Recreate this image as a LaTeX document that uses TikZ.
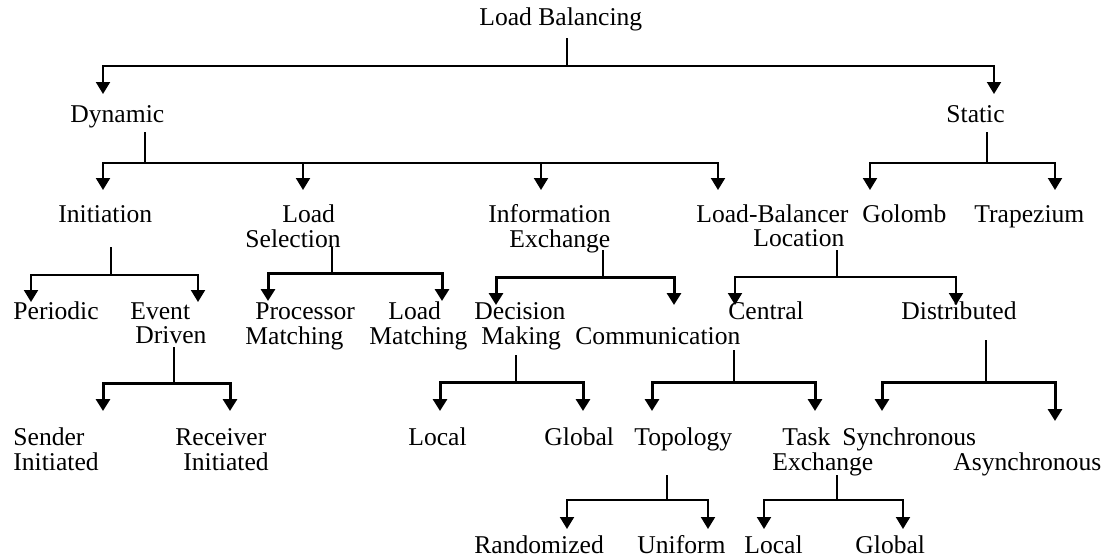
\documentclass[tikz,border=0pt]{standalone}
\usepackage{fontspec}
\setmainfont{Liberation Serif}
\usetikzlibrary{arrows.meta}
\newcommand\twoln[2]{\begin{tabular}[t]{@{}l@{}}#1\\#2\end{tabular}}
\begin{document}
\begin{tikzpicture}[x=0.5pt,y=-0.5pt,
  lbl/.style={anchor=base west, inner sep=0pt, font=\fontsize{12.8}{12.4}\selectfont},
  ln/.style={line width=1pt},
  lnk/.style={line width=1.5pt},
  tip/.style={-{Triangle[width=7pt,length=6pt]}}]
\useasboundingbox (0,0) rectangle (1103,558);

% ---------- labels ----------
\node[lbl] (lb)  at (479,25)  {Load Balancing};
\node[lbl] (dyn) at (70,122)  {Dynamic};
\node[lbl] (sta) at (946,122) {Static};

\node[lbl] (ini) at (58,222)  {Initiation};
\node[lbl] (lsel) at (245,222) {\twoln{\hspace*{18.5pt}Load}{Selection}};
\node[lbl] (iex) at (488,222) {\twoln{Information}{\hspace*{10.5pt}Exchange}};
\node[lbl] (lbl) at (696,222) {\twoln{Load-Balancer}{\hspace*{28.5pt}Location}};
\node[lbl] (gol) at (862,222) {Golomb};
\node[lbl] (tra) at (974,222) {Trapezium};

\node[lbl] (per) at (13,319)  {Periodic};
\node[lbl] (evd) at (130,319) {\twoln{Event}{\hspace*{2.5pt}Driven}};
\node[lbl] (pm)  at (245,319) {\twoln{\hspace*{5pt}Processor}{Matching}};
\node[lbl] (lm)  at (369,319) {\twoln{\hspace*{9.5pt}Load}{Matching}};
\node[lbl] (dm)  at (474,319) {\twoln{Decision}{\hspace*{3.5pt}Making}};
\node[lbl] (com) at (575,344) {Communication};
\node[lbl] (cen) at (728,319) {Central};
\node[lbl] (dis) at (901,319) {Distributed};

\node[lbl] (sen) at (13,445)  {\twoln{Sender}{Initiated}};
\node[lbl] (rec) at (175,445) {\twoln{Receiver}{\hspace*{4pt}Initiated}};
\node[lbl] (loc1) at (408,445) {Local};
\node[lbl] (glo1) at (544,445) {Global};
\node[lbl] (top) at (634,445) {Topology};
\node[lbl] (tex) at (772,445) {\twoln{\hspace*{5pt}Task}{Exchange}};
\node[lbl] (syn) at (842,445) {Synchronous};
\node[lbl] (asy) at (953,470) {Asynchronous};

\node[lbl] (ran) at (474,553) {Randomized};
\node[lbl] (uni) at (637,553) {Uniform};
\node[lbl] (loc2) at (744,553) {Local};
\node[lbl] (glo2) at (855,553) {Global};

% ---------- junction / tip coordinates ----------
\coordinate (s0) at (567,38);   \coordinate (j0) at (567,66);
\coordinate (t-dyn) at (103,94); \coordinate (t-sta) at (994,94);

\coordinate (s1) at (145,132);  \coordinate (j1) at (145,163);
\coordinate (t-ini) at (103,190); \coordinate (t-lsel) at (303,190);
\coordinate (t-iex) at (541,190); \coordinate (t-lbl) at (718,190);

\coordinate (s2) at (987,132);  \coordinate (j2) at (987,163);
\coordinate (t-gol) at (870,190); \coordinate (t-tra) at (1055,190);

\coordinate (s3) at (111,247);  \coordinate (j3) at (111,275);
\coordinate (t-per) at (31,302); \coordinate (t-evd) at (198,302);

\coordinate (s4) at (332,247);  \coordinate (j4) at (332,273);
\coordinate (t-pm) at (268,301); \coordinate (t-lm) at (442,301);

\coordinate (s5) at (603,250);  \coordinate (j5) at (603,277);
\coordinate (t-dm) at (496,305); \coordinate (t-com) at (674,305);

\coordinate (s6) at (837,250);  \coordinate (j6) at (837,277);
\coordinate (t-cen) at (735,305); \coordinate (t-dis) at (956,305);

\coordinate (s7) at (174,347);  \coordinate (j7) at (174,383);
\coordinate (t-sen) at (103,411); \coordinate (t-rec) at (230,411);

\coordinate (s8) at (516,355);  \coordinate (j8) at (516,382);
\coordinate (t-loc1) at (440,411); \coordinate (t-glo1) at (583,411);

\coordinate (s9) at (734,350);  \coordinate (j9) at (734,382);
\coordinate (t-top) at (652,411); \coordinate (t-tex) at (815,411);

\coordinate (s10) at (986,340); \coordinate (j10) at (986,382);
\coordinate (t-syn) at (882,411); \coordinate (t-asy) at (1055,421);

\coordinate (s11) at (667,475); \coordinate (j11) at (667,500);
\coordinate (t-ran) at (567,529); \coordinate (t-uni) at (708,529);

\coordinate (s12) at (837,475); \coordinate (j12) at (837,500);
\coordinate (t-loc2) at (764,529); \coordinate (t-glo2) at (903,529);

% ---------- connectors ----------
\draw[ln] (s0) -- (j0);
\draw[ln,tip] (j0) -| (t-dyn);
\draw[ln,tip] (j0) -| (t-sta);

\draw[ln] (s1) -- (j1);
\draw[ln,tip] (j1) -| (t-ini);
\draw[ln,tip] (j1) -| (t-lsel);
\draw[ln,tip] (j1) -| (t-iex);
\draw[ln,tip] (j1) -| (t-lbl);

\draw[ln] (s2) -- (j2);
\draw[ln,tip] (j2) -| (t-gol);
\draw[ln,tip] (j2) -| (t-tra);

\draw[ln] (s3) -- (j3);
\draw[ln,tip] (j3) -| (t-per);
\draw[ln,tip] (j3) -| (t-evd);

\draw[ln] (s4) -- (j4);
\draw[lnk,tip] (j4) -| (t-pm);
\draw[lnk,tip] (j4) -| (t-lm);

\draw[ln] (s5) -- (j5);
\draw[lnk,tip] (j5) -| (t-dm);
\draw[lnk,tip] (j5) -| (t-com);

\draw[ln] (s6) -- (j6);
\draw[ln,tip] (j6) -| (t-cen);
\draw[ln,tip] (j6) -| (t-dis);

\draw[ln] (s7) -- (j7);
\draw[lnk,tip] (j7) -| (t-sen);
\draw[lnk,tip] (j7) -| (t-rec);

\draw[ln] (s8) -- (j8);
\draw[lnk,tip] (j8) -| (t-loc1);
\draw[lnk,tip] (j8) -| (t-glo1);

\draw[ln] (s9) -- (j9);
\draw[lnk,tip] (j9) -| (t-top);
\draw[lnk,tip] (j9) -| (t-tex);

\draw[ln] (s10) -- (j10);
\draw[lnk,tip] (j10) -| (t-syn);
\draw[lnk,tip] (j10) -| (t-asy);

\draw[ln] (s11) -- (j11);
\draw[ln,tip] (j11) -| (t-ran);
\draw[ln,tip] (j11) -| (t-uni);

\draw[ln] (s12) -- (j12);
\draw[ln,tip] (j12) -| (t-loc2);
\draw[ln,tip] (j12) -| (t-glo2);
\end{tikzpicture}
\end{document}
